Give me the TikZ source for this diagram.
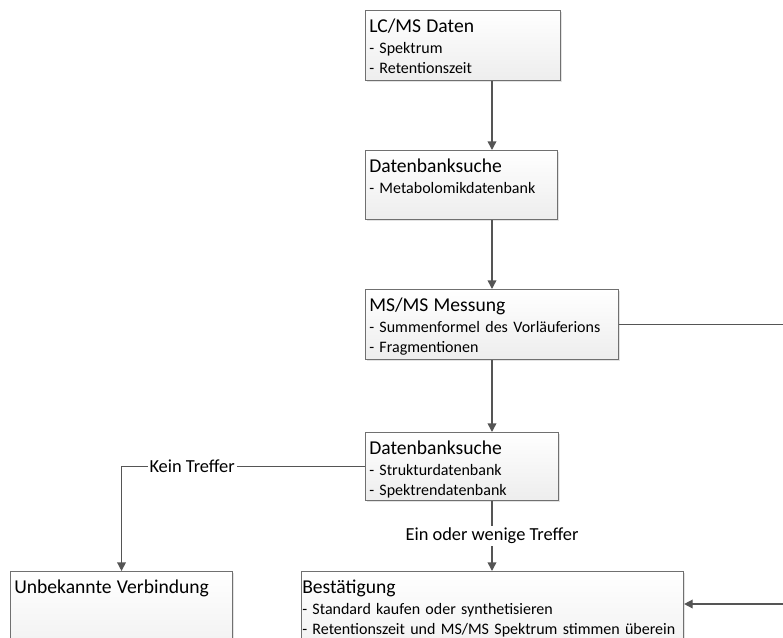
\documentclass[tikz,border=0pt]{standalone}
\usepackage{fontspec}
\setmainfont{Carlito}
\usetikzlibrary{calc,arrows.meta,shadows}

\definecolor{boxline}{HTML}{707070}
\definecolor{conline}{HTML}{555555}
\newcommand{\titel}[1]{{\fontsize{14.7}{17}\selectfont #1}}

\tikzset{
  flowbox/.style={draw=boxline,line width=0.8pt,top color=white,bottom color=black!7,
    drop shadow={shadow xshift=1.2pt,shadow yshift=-1.2pt,opacity=0.22},
    anchor=north west,inner sep=0pt},
  boxtext/.style={anchor=base west,inner sep=0pt,align=left,
    font=\fontsize{12}{15}\selectfont},
  conn/.style={draw=conline,line width=1.1pt},
  lbl/.style={fill=white,inner xsep=1.5pt,inner ysep=1.5pt,
    font=\fontsize{13.8}{16}\selectfont}
}

\begin{document}
\begin{tikzpicture}[x=0.75pt,y=-0.75pt,>={Triangle[length=6.5pt,width=6.5pt]}]
\useasboundingbox (0,0) rectangle (783,637);
\clip (0,0) rectangle (783,637);

\node [flowbox,minimum width=195*0.75pt,minimum height=70*0.75pt] at (365,10) (daten) {};
\node [flowbox,minimum width=192*0.75pt,minimum height=69*0.75pt] at (365,150) (suche1) {};
\node [flowbox,minimum width=253*0.75pt,minimum height=70*0.75pt] at (365,289) (msms) {};
\node [flowbox,minimum width=193*0.75pt,minimum height=68*0.75pt] at (365,432) (suche2) {};
\node [flowbox,minimum width=222*0.75pt,minimum height=100*0.75pt] at (10,571) (unbek) {};
\node [flowbox,minimum width=382*0.75pt,minimum height=100*0.75pt] at (301,571) (best) {};

\node [boxtext,text width=187*0.75pt] at ($(daten.north west)+(4,22.5)$) (datentxt)
  {\titel{LC/MS Daten}\\[0.75pt]- Spektrum\\- Retentionszeit};
\node [boxtext,text width=184*0.75pt] at ($(suche1.north west)+(4,22)$) (suche1txt)
  {\titel{Datenbanksuche}\\[0.75pt]- Metabolomikdatenbank};
\node [boxtext,text width=245*0.75pt] at ($(msms.north west)+(4,22.5)$) (msmstxt)
  {\titel{MS/MS Messung}\\[0.75pt]- Summenformel des Vorläuferions\\- Fragmentionen};
\node [boxtext,text width=185*0.75pt] at ($(suche2.north west)+(4,22)$) (suche2txt)
  {\titel{Datenbanksuche}\\[0.75pt]- Strukturdatenbank\\- Spektrendatenbank};
\node [boxtext,text width=214*0.75pt] at ($(unbek.north west)+(4,22)$) (unbektxt)
  {\titel{Unbekannte Verbindung}};
\node [boxtext,text width=380*0.75pt] at ($(best.north west)+(1,22)$) (besttxt)
  {\titel{Bestätigung}\\[0.75pt]- Standard kaufen oder synthetisieren\\- Retentionszeit und MS/MS Spektrum stimmen überein};

\coordinate (achse) at (492,0);
\coordinate (rand) at (792,604);

\draw [conn,->] (daten.south -| achse) to (suche1.north -| achse);
\draw [conn,->] (suche1.south -| achse) to (msms.north -| achse);
\draw [conn,->] (msms.south -| achse) to (suche2.north -| achse);
\draw [conn,->] (suche2.south -| achse) -- node [lbl] (ein) {Ein oder wenige Treffer} (best.north -| achse);
\draw [conn,->] (suche2.west) -| node [lbl,pos=0.355] (kein) {Kein Treffer} (unbek.north);
\draw [conn,->] (msms.east) -| (rand) -- (best.east |- rand);

\end{tikzpicture}
\end{document}
